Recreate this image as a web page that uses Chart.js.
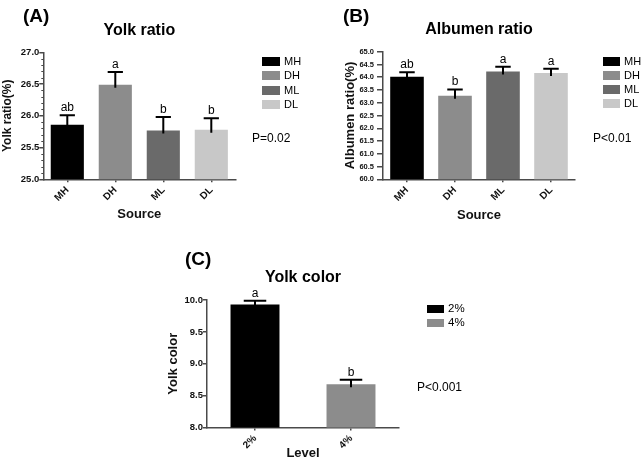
<!DOCTYPE html>
<html>
<head>
<meta charset="utf-8">
<script src="https://cdn.jsdelivr.net/npm/chart.js@4.4.1/dist/chart.umd.min.js"></script>
<style>
  html, body { margin: 0; padding: 0; background: #fff; }
  body { position: relative; width: 641px; height: 469px; overflow: hidden;
         font-family: "Liberation Sans", Arial, sans-serif; color: #000; }
  canvas { position: absolute; }
  .txt { position: absolute; white-space: nowrap; line-height: 1; }
  .tag { font-weight: bold; }
  .box { position: absolute; }
</style>
</head>
<body>
<canvas id="chart-a" width="320" height="232" style="left:0;top:0"></canvas>
<canvas id="chart-b" width="321" height="232" style="left:320px;top:0"></canvas>
<canvas id="chart-c" width="330" height="219" style="left:150px;top:250px"></canvas>
<div id="overlay"></div>
<script>
// ---- data ----
const SOURCES       = ['MH', 'DH', 'ML', 'DL'];
const SOURCE_COLORS = ['#000000', '#8c8c8c', '#6a6a6a', '#c8c8c8'];

const YOLK_RATIO     = [25.86, 26.49, 25.77, 25.78];
const YOLK_RATIO_SEM = [0.15, 0.20, 0.21, 0.18];
const YOLK_RATIO_SIG = ['ab', 'a', 'b', 'b'];

const ALBUMEN_RATIO     = [64.02, 63.27, 64.22, 64.17];
const ALBUMEN_RATIO_SEM = [0.17, 0.25, 0.19, 0.16];
const ALBUMEN_RATIO_SIG = ['ab', 'b', 'a', 'a'];

const LEVELS       = ['2%', '4%'];
const LEVEL_COLORS = ['#000000', '#8c8c8c'];
const YOLK_COLOR     = [9.93, 8.68];
const YOLK_COLOR_SEM = [0.06, 0.07];
const YOLK_COLOR_SIG = ['a', 'b'];

const FONT = '"Liberation Sans", Arial, sans-serif';
const AXIS = '#4a4a4a';

// error bar (upper half only) + significance letter above the cap
const errorBars = {
  id: 'errorBars',
  afterDatasetsDraw(chart) {
    const { ctx } = chart;
    const y = chart.scales.y;
    const ds = chart.data.datasets[0];
    const meta = chart.getDatasetMeta(0);
    ctx.save();
    ctx.strokeStyle = '#000';
    ctx.fillStyle = '#000';
    ctx.lineWidth = 2;
    ctx.font = '12px ' + FONT;
    ctx.textAlign = 'center';
    ctx.textBaseline = 'alphabetic';
    meta.data.forEach((bar, i) => {
      const top = y.getPixelForValue(ds.data[i]);
      const cap = y.getPixelForValue(ds.data[i] + ds.errors[i]);
      const half = bar.width * 0.23;
      ctx.beginPath();
      ctx.moveTo(bar.x, top + 3);
      ctx.lineTo(bar.x, cap);
      ctx.moveTo(bar.x - half, cap);
      ctx.lineTo(bar.x + half, cap);
      ctx.stroke();
      ctx.fillText(ds.letters[i], bar.x, cap - 4);
    });
    ctx.restore();
  }
};

// panel title centred over the plot area
function titlePlugin(text, ty) {
  return {
    id: 'panelTitle',
    afterDraw(chart) {
      const { ctx, chartArea } = chart;
      ctx.save();
      ctx.font = 'bold 16px ' + FONT;
      ctx.fillStyle = '#000';
      ctx.textAlign = 'center';
      ctx.textBaseline = 'middle';
      ctx.fillText(text, (chartArea.left + chartArea.right) / 2, ty);
      ctx.restore();
    }
  };
}

// small minor ticks every 0.1 on the y axis
const minorTicks = {
  id: 'minorTicks',
  afterDraw(chart) {
    const { ctx, chartArea } = chart;
    const y = chart.scales.y;
    ctx.save();
    ctx.strokeStyle = AXIS;
    ctx.lineWidth = 1;
    ctx.beginPath();
    for (let k = Math.round(y.min * 10); k <= Math.round(y.max * 10); k++) {
      if (k % 5 === 0) continue;
      const py = Math.round(y.getPixelForValue(k / 10)) + 0.5;
      ctx.moveTo(chartArea.left - 2, py);
      ctx.lineTo(chartArea.left, py);
    }
    ctx.stroke();
    ctx.restore();
  }
};

function buildPanel(canvas, p) {
  return new Chart(canvas, {
    type: 'bar',
    data: {
      labels: p.labels,
      datasets: [{
        data: p.values,
        errors: p.errors,
        letters: p.letters,
        backgroundColor: p.colors,
        borderWidth: 0,
        barPercentage: p.barPct,
        categoryPercentage: 1,
      }],
    },
    options: {
      responsive: false,
      animation: false,
      events: [],
      layout: { padding: p.padding },
      plugins: { legend: { display: false }, tooltip: { enabled: false } },
      scales: {
        x: {
          grid: { display: true, offset: false, drawOnChartArea: false, drawTicks: true,
                  tickLength: 3, color: AXIS, lineWidth: 1.5 },
          border: { display: true, color: AXIS, width: 1.5 },
          ticks: { color: '#111', font: { family: FONT, size: 10, weight: 'bold' },
                   maxRotation: 45, minRotation: 45, autoSkip: false, padding: 2 },
          title: { display: true, text: p.xTitle, color: '#111',
                   font: { family: FONT, size: 13, weight: 'bold' },
                   padding: { top: 0, bottom: p.xTitlePad } },
          afterFit(s) { s.height = p.xHeight; },
        },
        y: {
          min: p.yMin,
          max: p.yMax,
          grid: { display: true, drawOnChartArea: false, drawTicks: true,
                  tickLength: p.tickLen, color: AXIS, lineWidth: 1.5 },
          border: { display: true, color: AXIS, width: 1.5 },
          ticks: { stepSize: 0.5, autoSkip: false, padding: p.tickPad, color: '#111',
                   font: { family: FONT, size: p.tickSize, weight: 'bold' },
                   callback: v => Number(v).toFixed(1) },
          title: { display: true, text: p.yTitle, color: '#111',
                   font: { family: FONT, size: p.yTitleSize, weight: 'bold' },
                   padding: { top: p.yTitlePad, bottom: 0 } },
          afterFit(s) { s.width = p.yWidth; },
        },
      },
    },
    plugins: [errorBars, titlePlugin(p.title, p.titleY)].concat(p.extra || []),
  });
}

// html overlay: panel tags, legends, p values
function addText(text, x, cy, size, cls) {
  const d = document.createElement('div');
  d.className = 'txt ' + (cls || '');
  d.style.left = x + 'px';
  d.style.top = (cy - size / 2) + 'px';
  d.style.fontSize = size + 'px';
  d.textContent = text;
  document.getElementById('overlay').appendChild(d);
}

function addLegend(labels, colors, x, y0, step, w, h, size) {
  labels.forEach((lab, i) => {
    const cy = y0 + i * step;
    const b = document.createElement('div');
    b.className = 'box';
    b.style.cssText = `left:${x}px;top:${cy - h / 2}px;width:${w}px;height:${h}px;background:${colors[i]}`;
    document.getElementById('overlay').appendChild(b);
    addText(lab, x + w + 4, cy, size, '');
  });
}

buildPanel(document.getElementById('chart-a'), {
  labels: SOURCES, values: YOLK_RATIO, errors: YOLK_RATIO_SEM, letters: YOLK_RATIO_SIG,
  colors: SOURCE_COLORS, barPct: 0.69,
  padding: { left: 0, top: 52.3, right: 84.7, bottom: 0 },
  yMin: 25, yMax: 27, yWidth: 43.3, xHeight: 52.7,
  tickLen: 4, tickPad: 0, tickSize: 9.5,
  yTitle: 'Yolk ratio(%)', yTitleSize: 12, yTitlePad: 0.8,
  xTitle: 'Source', xTitlePad: 9.5,
  title: 'Yolk ratio', titleY: 30.7,
  extra: [minorTicks],
});

buildPanel(document.getElementById('chart-b'), {
  labels: SOURCES, values: ALBUMEN_RATIO, errors: ALBUMEN_RATIO_SEM, letters: ALBUMEN_RATIO_SIG,
  colors: SOURCE_COLORS, barPct: 0.70,
  padding: { left: 0, top: 51.7, right: 66, bottom: 0 },
  yMin: 60, yMax: 65, yWidth: 63, xHeight: 52.7,
  tickLen: 6, tickPad: 3, tickSize: 7.5,
  yTitle: 'Albumen ratio(%)', yTitleSize: 13, yTitlePad: 22.2,
  xTitle: 'Source', xTitlePad: 8.7,
  title: 'Albumen ratio', titleY: 30,
});

buildPanel(document.getElementById('chart-c'), {
  labels: LEVELS, values: YOLK_COLOR, errors: YOLK_COLOR_SEM, letters: YOLK_COLOR_SIG,
  colors: LEVEL_COLORS, barPct: 0.51,
  padding: { left: 0, top: 50, right: 81, bottom: 0 },
  yMin: 8, yMax: 10, yWidth: 57, xHeight: 41.5,
  tickLen: 4, tickPad: 0, tickSize: 9.5,
  yTitle: 'Yolk color', yTitleSize: 13, yTitlePad: 15.2,
  xTitle: 'Level', xTitlePad: 7.8,
  title: 'Yolk color', titleY: 28,
});

addText('(A)', 23, 15, 19, 'tag');
addText('(B)', 343, 15, 19, 'tag');
addText('(C)', 185, 258, 19, 'tag');

addLegend(SOURCES, SOURCE_COLORS, 262, 61.5, 14.4, 18, 9, 11);
addLegend(SOURCES, SOURCE_COLORS, 603, 61, 14, 17, 9, 11);
addLegend(LEVELS, LEVEL_COLORS, 427, 308.7, 14, 17, 8, 11.5);

addText('P=0.02', 252, 138, 12, '');
addText('P<0.01', 593, 138, 12, '');
addText('P<0.001', 417, 387, 12, '');
</script>
</body>
</html>
